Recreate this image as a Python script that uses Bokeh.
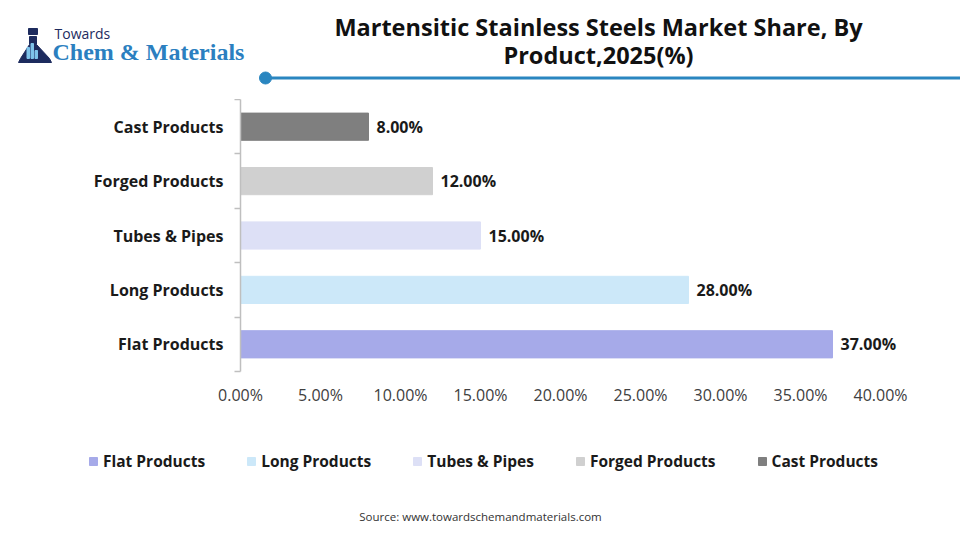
import numpy as np
from bokeh.plotting import figure
from bokeh.layouts import column
from bokeh.core.properties import value
from bokeh.models import (ColumnDataSource, Range1d, FixedTicker, LinearAxis, Label, LabelSet,
                          Legend, LegendItem)
from bokeh.embed import file_html
from bokeh.resources import INLINE

# Market share by product, 2025 (%)
categories = ["Flat Products", "Long Products", "Tubes & Pipes", "Forged Products", "Cast Products"]
shares = [37.0, 28.0, 15.0, 12.0, 8.0]
colors = ["#a6aae9", "#cce8f9", "#dde0f6", "#d0d0d0", "#7f7f7f"]
x_ticks = [0, 5, 10, 15, 20, 25, 30, 35, 40]

W = 960
HEAD_H, MAIN_H, FOOT_H = 99, 332, 109
FONT = "Open Sans"
INK = "#1a1a1a"

src = ColumnDataSource(dict(
    y=list(range(len(categories))),
    share=shares,
    color=colors,
    cat=categories,
    label=[f"{v:.2f}%" for v in shares],
))


def blank(height, y_top):
    """A frame-only figure whose data units are pixels, y growing downward."""
    f = figure(width=W, height=height, output_backend="svg", toolbar_location=None,
               x_range=Range1d(0, W), y_range=Range1d(y_top, 0),
               x_axis_location=None, y_axis_location=None,
               min_border=0, min_border_left=0, min_border_right=0,
               min_border_top=0, min_border_bottom=0, frame_align=False)
    f.outline_line_color = None
    f.xgrid.visible = False
    f.ygrid.visible = False
    return f


# ---- header: brand mark, title and rule ----
head = blank(HEAD_H, HEAD_H)
head.patch([29, 36, 36, 49, 51, 18, 20, 29], [36, 36, 44, 58, 62, 62, 58, 44], color="#1d2b5e")
head.quad(left=28, right=37, top=28, bottom=34, color="#1d2b5e")
head.quad(left=[26.5, 30.5, 34.5], right=[29, 33, 37], top=[47, 43, 50], bottom=[58, 58, 58],
          color="#7fc3ea")
head.add_layout(Label(x=54, y=33, text="Towards", text_baseline="middle", text_font=FONT,
                      text_font_size="14px", text_color="#1d2b5e"))
head.add_layout(Label(x=52, y=51, text="Chem & Materials", text_baseline="middle",
                      text_font="Liberation Serif", text_font_style="bold",
                      text_font_size="24px", text_color="#2b7fc0"))
for txt, ty in [("Martensitic Stainless Steels Market Share, By", 26), ("Product,2025(%)", 54)]:
    head.add_layout(Label(x=598, y=ty, text=txt, text_align="center", text_baseline="middle",
                          text_font=FONT, text_font_style="bold", text_font_size="23.5px",
                          text_color="#111111"))
head.segment(x0=265, y0=77.5, x1=W, y1=77.5, line_color="#2a86c0", line_width=3)
head.scatter(x=[265], y=[77.5], size=12, marker="circle", color="#2a86c0")

# ---- main bar chart ----
p = figure(width=W, height=MAIN_H, output_backend="svg", toolbar_location=None,
           x_range=Range1d(0, 45), y_range=Range1d(-0.5, len(categories) - 0.5),
           x_axis_location=None, y_axis_location=None, frame_align=False,
           min_border_left=240, min_border_right=0, min_border_top=0, min_border_bottom=60)
p.outline_line_color = None
p.xgrid.visible = False
p.ygrid.visible = False

p.hbar(y="y", right="share", left=0, height=0.5, color="color", source=src)

p.add_layout(LabelSet(x="share", y="y", text="label", source=src, x_offset=8,
                      text_baseline="middle", text_font=value(FONT), text_font_style="bold",
                      text_font_size="16px", text_color=INK))

# category axis: names at the bar centres, ticks on the band boundaries
yaxis = LinearAxis(ticker=FixedTicker(ticks=list(range(len(categories))),
                                      minor_ticks=[i - 0.5 for i in range(len(categories) + 1)]),
                   major_label_overrides={i: c for i, c in enumerate(categories)})
yaxis.axis_line_color = "#bfbfbf"
yaxis.axis_line_width = 1.5
yaxis.major_tick_line_color = None
yaxis.major_tick_out = 0
yaxis.major_tick_in = 0
yaxis.minor_tick_line_color = "#bfbfbf"
yaxis.minor_tick_line_width = 1.5
yaxis.minor_tick_out = 6
yaxis.minor_tick_in = 0
yaxis.major_label_standoff = 11
yaxis.major_label_text_font = FONT
yaxis.major_label_text_font_style = "bold"
yaxis.major_label_text_font_size = "16px"
yaxis.major_label_text_color = INK
p.add_layout(yaxis, "left")

xaxis = LinearAxis(ticker=FixedTicker(ticks=x_ticks),
                   major_label_overrides={t: f"{t:.2f}%" for t in x_ticks})
xaxis.axis_line_color = None
xaxis.major_tick_line_color = None
xaxis.minor_tick_line_color = None
xaxis.major_label_standoff = 6
xaxis.major_label_text_font = FONT
xaxis.major_label_text_font_size = "16px"
xaxis.major_label_text_color = "#404040"
p.add_layout(xaxis, "below")

# ---- footer: legend and source ----
foot = blank(FOOT_H, FOOT_H)
# hidden swatch renderer: only its legend entries are shown
swatch = foot.hbar(y=list(range(len(categories))), right=shares, left=0, height=0.5,
                   color=colors, visible=False)
legend = Legend(items=[LegendItem(label=c, renderers=[swatch], index=i) for i, c in enumerate(categories)],
                orientation="horizontal", location=(88, 68),
                glyph_width=10, glyph_height=10, label_standoff=5, spacing=41,
                padding=0, margin=0, border_line_color=None, background_fill_alpha=0,
                inactive_fill_alpha=0,
                label_text_font=FONT, label_text_font_style="bold",
                label_text_font_size="15.5px", label_text_color=INK)
foot.add_layout(legend, "center")
foot.add_layout(Label(x=480, y=85, text="Source: www.towardschemandmaterials.com",
                      text_align="center", text_baseline="middle", text_font=FONT,
                      text_font_size="11.5px", text_color="#333333"))

layout = column(head, p, foot, spacing=0)
open("out.html", "w").write(file_html(layout, INLINE))
